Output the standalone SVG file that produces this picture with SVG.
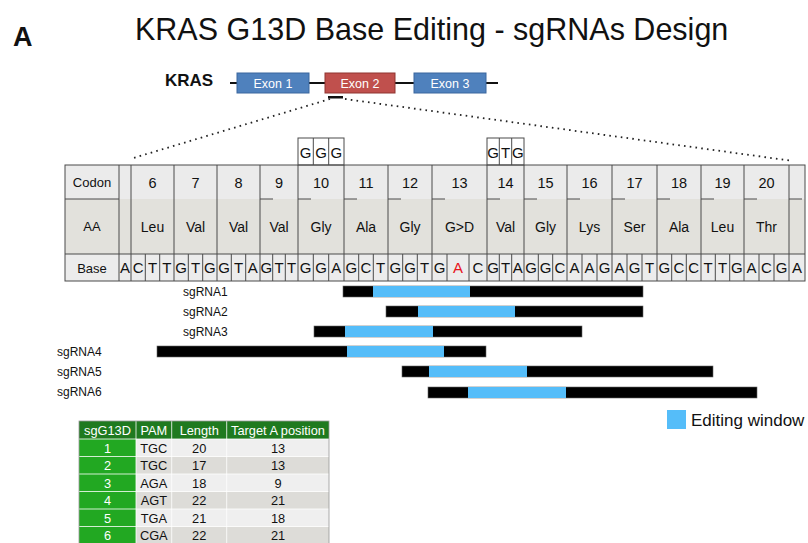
<svg xmlns="http://www.w3.org/2000/svg" width="808" height="543" viewBox="0 0 808 543">
<style>
text{font-family:"Liberation Sans",Arial,sans-serif;fill:#111}
.c{text-anchor:middle}
.ln{stroke:#4a4a4a;stroke-width:1;fill:none}
.dot{stroke:#222;stroke-width:1.8;stroke-dasharray:1.6 4.2;fill:none}
.blk{fill:#000}
.blu{fill:#55bdf9}
.bar{stroke:#666;stroke-width:0.6}
.lab{font-size:12px}
.num{font-size:14.5px}
.aa{font-size:14px}
.bs{font-size:15px}
.hd{font-size:13px}
.ex{fill:#fff;font-size:12.5px}
.tt{font-size:12.8px}
.tw{fill:#fff;font-size:12.8px}
.tl{fill:#efefef}
.td{fill:#dddcd8}
</style>
<rect width="808" height="543" fill="#fff"/>
<g id="title">
<text x="13" y="46" style="font-size:27px;font-weight:bold">A</text>
<text x="135" y="40" style="font-size:30.5px">KRAS G13D Base Editing - sgRNAs Design</text>
</g>
<g id="gene">
<text x="165" y="86" style="font-size:17px;font-weight:bold">KRAS</text>
<line x1="230" y1="83" x2="498" y2="83" stroke="#111" stroke-width="2"/>
<rect x="237" y="73" width="72" height="20" fill="#4f81bd" stroke="#3a679e"/>
<text x="273" y="87.5" class="ex c">Exon 1</text>
<rect x="325" y="73" width="70" height="20" fill="#c0504d" stroke="#8f3431"/>
<text x="360" y="87.5" class="ex c">Exon 2</text>
<rect x="414" y="73" width="72" height="20" fill="#4f81bd" stroke="#3a679e"/>
<text x="450" y="87.5" class="ex c">Exon 3</text>
<rect x="328" y="96" width="15" height="2.5" fill="#111"/>
</g>
<g id="connectors">
<line class="dot" x1="330" y1="99" x2="130" y2="159"/>
<line class="dot" x1="345" y1="99" x2="793" y2="161"/>
</g>
<g id="codon-table">
<rect x="65" y="165" width="740" height="34" fill="#ebebeb"/>
<rect x="65" y="199" width="740" height="55" fill="#e2e1dc"/>
<rect x="65" y="254" width="740" height="27" fill="#ececec"/>
<rect x="65" y="165" width="740" height="116" class="ln"/>
<line class="ln" x1="65" y1="254" x2="805" y2="254"/>
<line class="ln" x1="65" y1="199" x2="119" y2="199"/>
<path class="ln" d="M260 199h13M298 199h13M344 199h13M388 199h13M432 199h13M487 199h13M524 199h13M567 199h13M612 199h13M657 199h13M701 199h13M744 199h13M789 199h13"/>
<path class="ln" d="M119 165V281M131 165V281M174 165V281M217 165V281M260 165V281M298 165V281M344 165V281M388 165V281M432 165V281M487 165V281M524 165V281M567 165V281M612 165V281M657 165V281M701 165V281M744 165V281M789 165V281"/>
<path class="ln" d="M145.3 254V281M159.7 254V281M188.3 254V281M202.7 254V281M231.3 254V281M245.7 254V281M272.7 254V281M285.3 254V281M313.3 254V281M328.7 254V281M358.7 254V281M373.3 254V281M402.7 254V281M417.3 254V281M447 254V281M469 254V281M499.3 254V281M511.7 254V281M538.3 254V281M552.7 254V281M582 254V281M597 254V281M627 254V281M642 254V281M671.7 254V281M686.3 254V281M715.3 254V281M729.7 254V281M759 254V281M774 254V281"/>
<text x="92" y="187" class="hd c">Codon</text>
<text x="92" y="231" class="hd c">AA</text>
<text x="92" y="272.5" class="hd c">Base</text>
<g class="num">
<text x="152.5" y="187.5" class="c">6</text>
<text x="195.5" y="187.5" class="c">7</text>
<text x="238.5" y="187.5" class="c">8</text>
<text x="279" y="187.5" class="c">9</text>
<text x="321" y="187.5" class="c">10</text>
<text x="366" y="187.5" class="c">11</text>
<text x="410" y="187.5" class="c">12</text>
<text x="459.5" y="187.5" class="c">13</text>
<text x="505.5" y="187.5" class="c">14</text>
<text x="545.5" y="187.5" class="c">15</text>
<text x="589.5" y="187.5" class="c">16</text>
<text x="634.5" y="187.5" class="c">17</text>
<text x="679" y="187.5" class="c">18</text>
<text x="722.5" y="187.5" class="c">19</text>
<text x="766.5" y="187.5" class="c">20</text>
</g>
<g class="aa">
<text x="152.5" y="231.5" class="c">Leu</text>
<text x="195.5" y="231.5" class="c">Val</text>
<text x="238.5" y="231.5" class="c">Val</text>
<text x="279" y="231.5" class="c">Val</text>
<text x="321" y="231.5" class="c">Gly</text>
<text x="366" y="231.5" class="c">Ala</text>
<text x="410" y="231.5" class="c">Gly</text>
<text x="459.5" y="231.5" class="c">G&gt;D</text>
<text x="505.5" y="231.5" class="c">Val</text>
<text x="545.5" y="231.5" class="c">Gly</text>
<text x="589.5" y="231.5" class="c">Lys</text>
<text x="634.5" y="231.5" class="c">Ser</text>
<text x="679" y="231.5" class="c">Ala</text>
<text x="722.5" y="231.5" class="c">Leu</text>
<text x="766.5" y="231.5" class="c">Thr</text>
</g>
<g class="bs">
<text x="125" y="273" class="c">A</text>
<text x="138.2" y="273" class="c">C</text>
<text x="152.5" y="273" class="c">T</text>
<text x="166.8" y="273" class="c">T</text>
<text x="181.2" y="273" class="c">G</text>
<text x="195.5" y="273" class="c">T</text>
<text x="209.8" y="273" class="c">G</text>
<text x="224.2" y="273" class="c">G</text>
<text x="238.5" y="273" class="c">T</text>
<text x="252.8" y="273" class="c">A</text>
<text x="266.3" y="273" class="c">G</text>
<text x="279" y="273" class="c">T</text>
<text x="291.7" y="273" class="c">T</text>
<text x="305.7" y="273" class="c">G</text>
<text x="321" y="273" class="c">G</text>
<text x="336.3" y="273" class="c">A</text>
<text x="351.3" y="273" class="c">G</text>
<text x="366" y="273" class="c">C</text>
<text x="380.7" y="273" class="c">T</text>
<text x="395.3" y="273" class="c">G</text>
<text x="410" y="273" class="c">G</text>
<text x="424.7" y="273" class="c">T</text>
<text x="439.5" y="273" class="c">G</text>
<text x="458" y="273" class="c" style="fill:#e8141b">A</text>
<text x="478" y="273" class="c">C</text>
<text x="493.2" y="273" class="c">G</text>
<text x="505.5" y="273" class="c">T</text>
<text x="517.8" y="273" class="c">A</text>
<text x="531.2" y="273" class="c">G</text>
<text x="545.5" y="273" class="c">G</text>
<text x="559.8" y="273" class="c">C</text>
<text x="574.5" y="273" class="c">A</text>
<text x="589.5" y="273" class="c">A</text>
<text x="604.5" y="273" class="c">G</text>
<text x="619.5" y="273" class="c">A</text>
<text x="634.5" y="273" class="c">G</text>
<text x="649.5" y="273" class="c">T</text>
<text x="664.3" y="273" class="c">G</text>
<text x="679" y="273" class="c">C</text>
<text x="693.7" y="273" class="c">C</text>
<text x="708.2" y="273" class="c">T</text>
<text x="722.5" y="273" class="c">T</text>
<text x="736.8" y="273" class="c">G</text>
<text x="751.5" y="273" class="c">A</text>
<text x="766.5" y="273" class="c">C</text>
<text x="781.5" y="273" class="c">G</text>
<text x="797" y="273" class="c">A</text>
</g>
</g>
<g id="wt-codon-10">
<rect x="298" y="138" width="46" height="27" fill="#ebebeb" class="ln"/>
<path class="ln" d="M313.3 138V165M328.7 138V165"/>
<text x="305.7" y="157.5" class="bs c">G</text>
<text x="321" y="157.5" class="bs c">G</text>
<text x="336.3" y="157.5" class="bs c">G</text>
</g>
<g id="wt-codon-14">
<rect x="487" y="138" width="37" height="27" fill="#ebebeb" class="ln"/>
<path class="ln" d="M499.3 138V165M511.7 138V165"/>
<text x="493.2" y="157.5" class="bs c">G</text>
<text x="505.5" y="157.5" class="bs c">T</text>
<text x="517.8" y="157.5" class="bs c">G</text>
</g>
<g id="sgRNA1">
<text x="183" y="296" class="lab">sgRNA1</text>
<rect x="343" y="286" width="300" height="11" class="blk bar"/>
<rect x="373" y="286" width="97" height="11" class="blu"/>
</g>
<g id="sgRNA2">
<text x="183" y="316" class="lab">sgRNA2</text>
<rect x="386" y="306" width="257" height="11" class="blk bar"/>
<rect x="418" y="306" width="97" height="11" class="blu"/>
</g>
<g id="sgRNA3">
<text x="183" y="336" class="lab">sgRNA3</text>
<rect x="314" y="326" width="268" height="11" class="blk bar"/>
<rect x="345" y="326" width="88" height="11" class="blu"/>
</g>
<g id="sgRNA4">
<text x="57" y="356" class="lab">sgRNA4</text>
<rect x="157" y="346" width="329" height="11" class="blk bar"/>
<rect x="347" y="346" width="97" height="11" class="blu"/>
</g>
<g id="sgRNA5">
<text x="57" y="376" class="lab">sgRNA5</text>
<rect x="402" y="366" width="311" height="11" class="blk bar"/>
<rect x="429" y="366" width="98" height="11" class="blu"/>
</g>
<g id="sgRNA6">
<text x="57" y="396" class="lab">sgRNA6</text>
<rect x="428" y="387" width="329" height="11" class="blk bar"/>
<rect x="468" y="387" width="98" height="11" class="blu"/>
</g>
<g id="legend">
<rect x="667" y="410" width="19" height="19" class="blu"/>
<text x="691" y="425.5" style="font-size:17px">Editing window</text>
</g>
<g id="sg-table">
<rect x="79" y="421" width="250" height="18" fill="#1f7a1f"/>
<rect x="79" y="439" width="57" height="105" fill="#22a822"/>
<rect x="136" y="439" width="193" height="17.5" class="tl"/>
<rect x="136" y="456.5" width="193" height="17.5" class="td"/>
<rect x="136" y="474" width="193" height="17.5" class="tl"/>
<rect x="136" y="491.5" width="193" height="17.5" class="td"/>
<rect x="136" y="509" width="193" height="17.5" class="tl"/>
<rect x="136" y="526.5" width="193" height="17.5" class="td"/>
<path d="M79 439H329M79 456.5H329M79 474H329M79 491.5H329M79 509H329M79 526.5H329M136 421V544M171.7 421V544M226.7 421V544" stroke="#fff" stroke-width="1" fill="none" opacity="0.8"/>
<rect x="79" y="421" width="250" height="123" fill="none" stroke="#9a9a9a" stroke-width="0.8"/>
<text x="107.5" y="435" class="tw c">sgG13D</text>
<text x="153.8" y="435" class="tw c">PAM</text>
<text x="199.2" y="435" class="tw c">Length</text>
<text x="278" y="435" class="tw c">Target A position</text>
<text x="107.5" y="452.5" class="tw c">1</text>
<text x="153.8" y="452.5" class="tt c">TGC</text>
<text x="199.2" y="452.5" class="tt c">20</text>
<text x="278" y="452.5" class="tt c">13</text>
<text x="107.5" y="470" class="tw c">2</text>
<text x="153.8" y="470" class="tt c">TGC</text>
<text x="199.2" y="470" class="tt c">17</text>
<text x="278" y="470" class="tt c">13</text>
<text x="107.5" y="487.5" class="tw c">3</text>
<text x="153.8" y="487.5" class="tt c">AGA</text>
<text x="199.2" y="487.5" class="tt c">18</text>
<text x="278" y="487.5" class="tt c">9</text>
<text x="107.5" y="505" class="tw c">4</text>
<text x="153.8" y="505" class="tt c">AGT</text>
<text x="199.2" y="505" class="tt c">22</text>
<text x="278" y="505" class="tt c">21</text>
<text x="107.5" y="522.5" class="tw c">5</text>
<text x="153.8" y="522.5" class="tt c">TGA</text>
<text x="199.2" y="522.5" class="tt c">21</text>
<text x="278" y="522.5" class="tt c">18</text>
<text x="107.5" y="540" class="tw c">6</text>
<text x="153.8" y="540" class="tt c">CGA</text>
<text x="199.2" y="540" class="tt c">22</text>
<text x="278" y="540" class="tt c">21</text>
</g>
</svg>
